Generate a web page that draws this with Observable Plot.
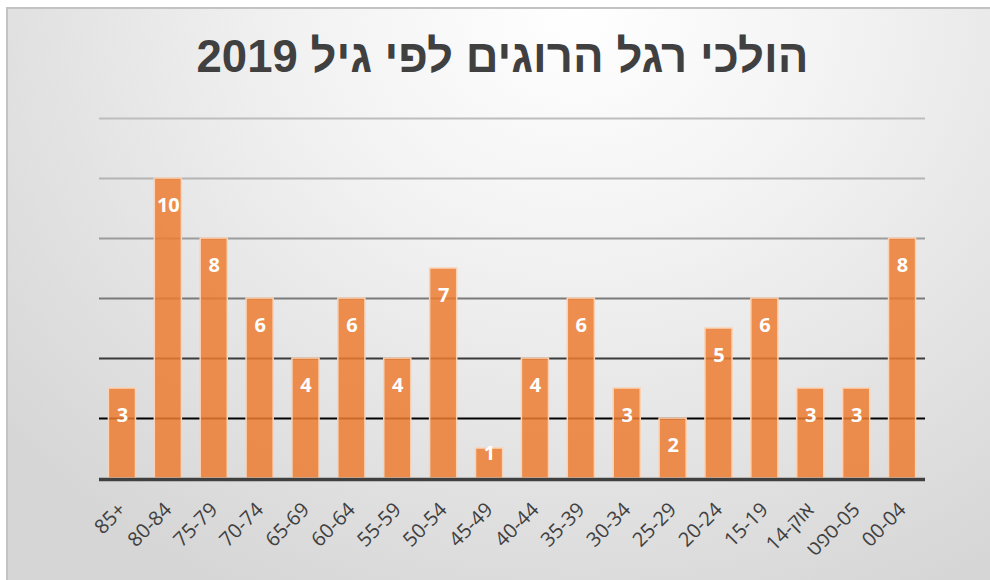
<!DOCTYPE html>
<html><head><meta charset="utf-8">
<script src="https://cdn.jsdelivr.net/npm/d3@7"></script>
<script src="https://cdn.jsdelivr.net/npm/@observablehq/plot@0.6"></script>
<style>
html,body{margin:0;padding:0;width:990px;height:580px;overflow:hidden;background:#fff;}
#frame{position:absolute;left:6px;top:7px;width:1000px;height:600px;box-sizing:border-box;border-left:2px solid #c3c3c3;border-top:2px solid #c3c3c3;
background:radial-gradient(ellipse 75% 110% at 57% 0%, #ffffff 0%, #f3f3f3 35%, #e3e3e3 70%, #d6d6d6 100%);}
#title{position:absolute;left:0;top:33px;width:1005px;text-align:center;font:bold 45.5px/48px "Liberation Sans",Arial,sans-serif;color:#404040;}
#chart{position:absolute;left:0;top:100px;}
</style></head>
<body>
<div id="frame"></div>
<div id="title" dir="rtl">הולכי רגל הרוגים לפי גיל 2019</div>
<div id="chart"></div>
<script>
const categories = ["85+","80-84","75-79","70-74","65-69","60-64","55-59","50-54","45-49","40-44","35-39","30-34","25-29","20-24","15-19","14-אוק","ספט\u200E-05","00-04"];
const values = [3,10,8,6,4,6,4,7,1,4,6,3,2,5,6,3,3,8];
const gridValues = [2,4,6,8,10,12];
const gridColors = ["#000000","#3a3a3a","#7a7a7a","#9c9c9c","#b4b4b4","#bdbdbd"];

const data = categories.map((c,i)=>({cat:c, v:values[i]}));
const grid = gridValues.map((g,i)=>({g, c:gridColors[i]}));

const chart = Plot.plot({
  width: 990, height: 480,
  marginTop: 18, marginBottom: 102, marginLeft: 99, marginRight: 65,
  style: {fontFamily: "'Open Sans','DejaVu Sans',sans-serif", background: "transparent", color:"#404040"},
  x: {domain: categories, padding: 0, round: false, label: null},
  y: {domain: [0,12], axis: null},
  color: {type: "identity"},
  marks: [
    Plot.ruleY(grid, {y: "g", stroke: "c", strokeWidth: 1.8}),
    Plot.barY(data, {x: "cat", y: "v", fill: "#ed7d31", fillOpacity: 0.85, stroke: "#fad3b6", strokeWidth: 1.5, insetLeft: 9.4, insetRight: 9.4}),
    Plot.ruleY([0], {stroke: "#404040", strokeWidth: 3.5, dy: 1}),
    Plot.text(data.filter(d=>d.v>=2), {x: "cat", y: "v", text: d=>String(d.v), dy: 27, fill: "white", fontSize: 20, fontWeight: "bold"}),
    Plot.text(data.filter(d=>d.v<2), {x: "cat", y: "v", text: d=>String(d.v), dy: 5, fill: "white", fontSize: 20, fontWeight: "bold"}),
    Plot.axisX({tickRotate: -45, tickSize: 0, tickPadding: 28, fontSize: 20, fill: "#404040", label: null})
  ]
});
document.getElementById("chart").appendChild(chart);
</script>
</body></html>
